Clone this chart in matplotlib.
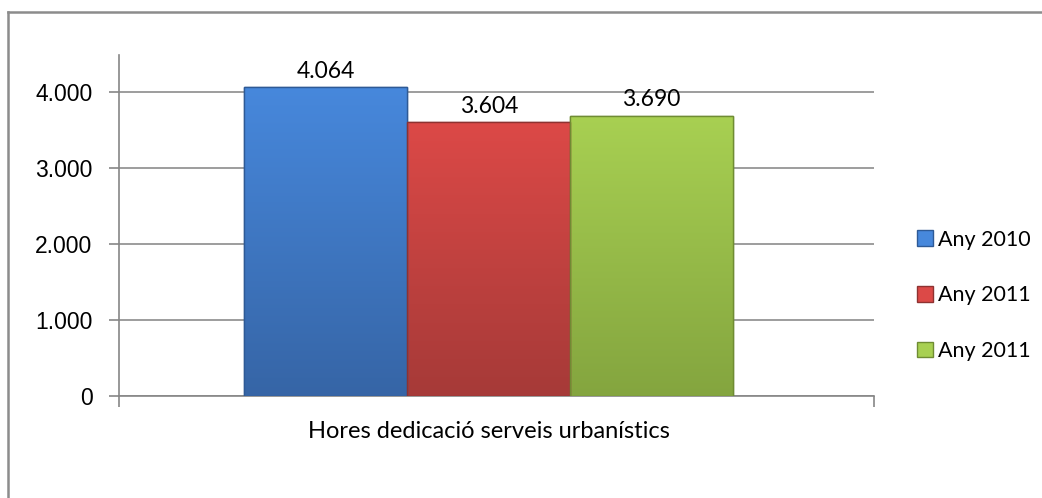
import matplotlib.pyplot as plt
import matplotlib.colors as mcolors
import numpy as np
from matplotlib.lines import Line2D

category = "Hores dedicació serveis urbanístics"
series = ["Any 2010", "Any 2011", "Any 2011"]
values = [4064, 3604, 3690]
labels = ["4.064", "3.604", "3.690"]
yticks = [0, 1000, 2000, 3000, 4000]
ytick_labels = ["0", "1.000", "2.000", "3.000", "4.000"]

top_cols = ["#4788dc", "#dc4947", "#a8d052"]
bot_cols = ["#3665a6", "#a63a38", "#84a53f"]
edge_cols = ["#2e5a96", "#8e3231", "#6f8c33"]

fig = plt.figure(figsize=(10.42, 4.98), dpi=100)
ax = fig.add_axes([0.1142, 0.2048, 0.7246, 0.6848])

xs = np.array([-1, 0, 1])
bars = ax.bar(xs, values, width=1.0, color=top_cols, edgecolor=edge_cols,
              linewidth=1.0, zorder=3)
# vertical gradient on each bar
for b, c1, c2 in zip(bars, top_cols, bot_cols):
    grad = np.linspace(0, 1, 256).reshape(-1, 1)
    cmap = mcolors.LinearSegmentedColormap.from_list("g", [c1, c2])
    x0, w, h = b.get_x(), b.get_width(), b.get_height()
    im = ax.imshow(grad, cmap=cmap, aspect="auto", extent=[x0, x0 + w, 0, h],
                   origin="upper", zorder=3.5)
    im.set_clip_path(b)
    ax.bar(b.get_x() + w / 2, h, width=w, color="none", edgecolor=b.get_edgecolor(),
           linewidth=1.0, zorder=4)

for x, v, t in zip(xs, values, labels):
    ax.text(x, v + 70, t, ha="center", va="bottom", fontsize=16.5,
            family="Lato", color="black")

ax.set_xlim(-2.27, 2.365)
ax.set_ylim(0, 4490)
ax.set_yticks(yticks)
ax.set_yticklabels(ytick_labels, fontsize=16.5, family="Liberation Sans")
ax.yaxis.grid(True, color="#8c8c8c", linewidth=1.2, zorder=0)
ax.set_axisbelow(True)
ax.set_xticks([0])
ax.set_xticklabels([category], fontsize=17, family="Lato")
ax.tick_params(axis="x", length=0, pad=18)
ax.set_xticks([-2.27, 2.365], minor=True)
ax.tick_params(axis="x", which="minor", length=8, color="#868686", width=1.2)
ax.tick_params(axis="y", length=7, color="#868686", width=1.2, pad=12)
for s in ["top", "right"]:
    ax.spines[s].set_visible(False)
for s in ["left", "bottom"]:
    ax.spines[s].set_color("#868686")
    ax.spines[s].set_linewidth(1.2)

handles = [plt.Rectangle((0, 0), 1, 1, facecolor=c, edgecolor=e)
           for c, e in zip(top_cols, edge_cols)]
fig.legend(handles, series, loc="upper left", bbox_to_anchor=(0.87, 0.56),
           frameon=False, prop={"family": "Lato", "size": 15.5},
           handlelength=0.75, handleheight=0.75, handletextpad=0.2,
           labelspacing=1.65, borderpad=0)

# chart area border (only top and left visible)
fig.add_artist(Line2D([8 / 1042, 8 / 1042], [0, 1 - 12 / 498], transform=fig.transFigure,
                      color="#8c8c8c", linewidth=1.8))
fig.add_artist(Line2D([8 / 1042, 1], [1 - 12 / 498, 1 - 12 / 498], transform=fig.transFigure,
                      color="#8c8c8c", linewidth=1.8))

fig.savefig("out.png", dpi=100)
